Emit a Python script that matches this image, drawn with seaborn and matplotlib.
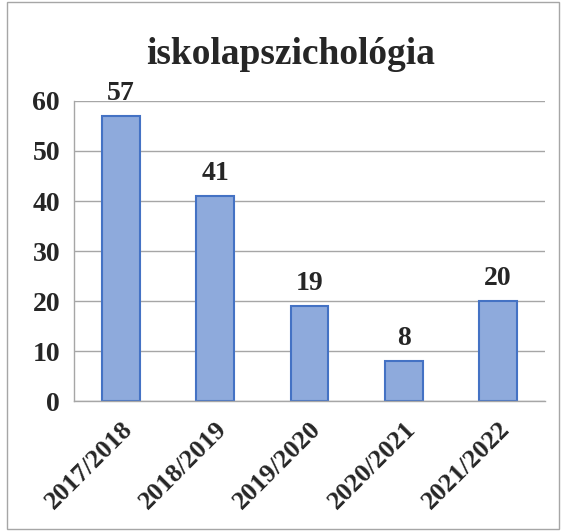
import matplotlib
matplotlib.use("Agg")
import matplotlib.pyplot as plt
import seaborn as sns
from matplotlib.patches import Rectangle

# Adatok
evek = ["2017/2018", "2018/2019", "2019/2020", "2020/2021", "2021/2022"]
esetek = [57, 41, 19, 8, 20]

sns.set_style("white")
plt.rcParams['font.family'] = ['Liberation Serif', 'DejaVu Serif']

fig = plt.figure(figsize=(5.67, 5.31), dpi=100)
ax = fig.add_axes([0.1305, 0.2448, 0.8307, 0.565])

sns.barplot(x=evek, y=esetek, color="#8eaadc", edgecolor="#4472c4",
            linewidth=1.5, width=0.4, saturation=1, ax=ax)

ax.set_ylim(0, 60)
ax.set_xlim(-0.5, 4.5)
ax.set_yticks(range(0, 61, 10))
ax.yaxis.grid(True, color="#a6a6a6", linewidth=1)
ax.set_axisbelow(True)

# osztásjelek a kategóriák határain
ax.set_xticks([i - 0.5 for i in range(6)], minor=True)
ax.tick_params(axis="x", which="minor", length=6, color="#a6a6a6", width=1, direction="out")
ax.tick_params(axis="x", which="major", length=0, pad=12)
ax.tick_params(axis="y", length=6, color="#a6a6a6", width=1, direction="out", pad=4)

for s in ["top", "right"]:
    ax.spines[s].set_visible(False)
for s in ["left", "bottom"]:
    ax.spines[s].set_color("#a6a6a6")
    ax.spines[s].set_linewidth(1)

plt.setp(ax.get_xticklabels(), rotation=45, ha="right", rotation_mode="anchor",
         fontsize=19, fontweight="bold")
plt.setp(ax.get_yticklabels(), fontsize=20, fontweight="bold")

for i, v in enumerate(esetek):
    ax.annotate(str(v), (i, v), xytext=(0, 7), textcoords="offset points",
                ha="center", va="bottom", fontsize=20, fontweight="bold")

ax.set_xlabel("")
ax.set_ylabel("")
fig.text(0.513, 0.897, "iskolapszichológia", ha="center", va="center",
         fontsize=27, fontweight="bold")

# keret
fig.patches.append(Rectangle((7 / 567, 2 / 531), 552 / 567, 527 / 531,
                             transform=fig.transFigure, fill=False,
                             edgecolor="#a6a6a6", linewidth=1))

plt.savefig("out.png", dpi=100)
